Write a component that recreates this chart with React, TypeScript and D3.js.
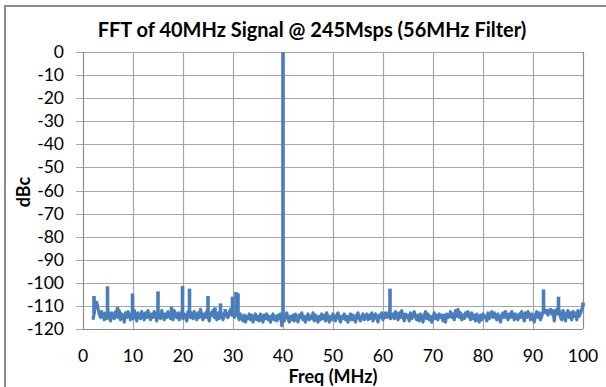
import React from 'react';
import * as d3 from 'd3';

// noise floor, one value every 0.25 MHz from 2.0 to 100.0 MHz
const noiseStart = 2;
const noiseStep = 0.25;
const noiseDb = [
  -116, -113, -109, -108.5, -111, -113.5, -115, -112.5, -114, -116, -113, -115.5, -112, -114.5, -116.5, -113, -114, -115.5, -112.5, -114,
  -115, -112, -116, -113.5, -114.5, -117, -113, -115, -112.5, -114, -116, -113.5, -115.5, -112, -114, -116.5, -113, -114.5, -115.5, -112.5,
  -114, -116, -113, -115, -112, -114.5, -116, -113.5, -115, -112.5, -114, -116.5, -113, -114.5, -115.5, -112, -114, -116, -113.5, -115,
  -112.5, -114, -115.5, -113, -116, -112, -114.5, -115, -113, -116, -114, -112.5, -115.5, -113.5, -114.5, -116.5, -112.5, -114, -115, -113,
  -115.5, -112.5, -114, -116, -113, -115, -111.5, -114, -116, -113.5, -115, -112.5, -114.5, -116.5, -113, -114, -112, -115, -113.5, -116,
  -113, -115.5, -112, -114, -116, -113.5, -112, -114.5, -115, -113, -111.5, -114, -112.5, -115, -113, -112, -114.5, -116, -113.5, -115,
  -116.5, -114, -117, -114.5, -115.5, -113.5, -116, -114, -117, -115, -113.5, -116, -114.5, -116.5, -113.5, -115, -117, -114, -115.5, -113.5,
  -116, -114.5, -117, -115, -113.5, -116, -114.5, -116.5, -114, -115.5, -113.5, -118.5, -115, -116.5, -114, -113, -115.5, -117, -114.5, -116,
  -114, -116.5, -113.5, -115.5, -117, -114, -115, -113, -116, -114.5, -117, -115, -113.5, -116, -114.5, -115.5, -113, -116.5, -114, -115,
  -117, -114.5, -116, -113.5, -115.5, -114, -116.5, -113, -115, -117, -114.5, -116, -113.5, -115, -116.5, -114, -113, -115.5, -117, -114.5,
  -115.5, -113.5, -116, -114.5, -117, -115, -113.5, -116, -114, -115.5, -117, -114, -113, -115.5, -116.5, -114.5, -113.5, -116, -115, -113.5,
  -116, -114, -115.5, -113, -116.5, -114.5, -113.5, -115.5, -117, -114, -115, -113, -116, -114.5, -113, -115, -114, -112.5, -115.5, -114,
  -113.5, -115.5, -112.5, -114.5, -116, -113, -115, -112, -114.5, -116.5, -113.5, -115, -114, -116.5, -113, -115.5, -114, -112.5, -115, -116,
  -114, -116.5, -113.5, -115, -117, -114, -112.5, -115.5, -113.5, -116, -114.5, -117, -115, -113, -115.5, -114, -116, -113.5, -115, -114,
  -116.5, -114, -117, -113.5, -115, -114.5, -112.5, -115, -113.5, -116, -112, -114.5, -111.5, -115, -113, -116, -114, -115.5, -113, -114.5,
  -112.5, -114.5, -116, -113, -115.5, -114, -116.5, -113.5, -115, -117, -114, -116, -113.5, -115, -114.5, -116.5, -113, -115.5, -114, -112.5,
  -115, -113, -114.5, -116, -113.5, -115.5, -117, -114, -113, -115, -112.5, -114.5, -116, -113.5, -115, -112.5, -114, -116, -113.5, -115,
  -116, -113.5, -115, -112.5, -114.5, -116.5, -113, -115, -112.5, -114, -116, -113.5, -115.5, -117, -114, -112.5, -115, -113, -116, -114.5,
  -112.5, -111.5, -113, -112, -114, -112, -111.5, -113.5, -112, -116.5, -112.5, -111.5, -113.5, -112, -115, -116, -112, -114, -116.5, -113,
  -112, -115, -113, -116, -112.5, -114.5, -113, -116, -112, -114.5, -113, -111.5, -110.5,
];

// spurs and carrier: frequency (MHz) and peak level (dBc)
const spurFreq = [2.2, 4.9, 6.9, 9.9, 15, 17.7, 19.9, 21.3, 25, 26.4, 27.5, 28.4, 29.9, 30.6, 31, 40, 61.4, 92.1, 95.1, 100];
const spurDb = [-105.7, -101.5, -110.5, -104.6, -103.7, -110.4, -101.4, -102.5, -105.7, -110.6, -108.9, -111.4, -106, -104, -104.5, 0, -102.5, -102.8, -106, -108.5];

const xTicks = [0, 10, 20, 30, 40, 50, 60, 70, 80, 90, 100];
const yTicks = [0, -10, -20, -30, -40, -50, -60, -70, -80, -90, -100, -110, -120];

const W = 606;
const H = 387;
const plot = { left: 83, right: 583, top: 52, bottom: 329 };
const lineColor = '#4a7ebb';
const gridColor = '#a6a6a6';
const font = 'Lato, "Open Sans", sans-serif';

export default function App() {
  const x = d3.scaleLinear().domain([0, 100]).range([plot.left, plot.right]);
  const y = d3.scaleLinear().domain([-120, 0]).range([plot.bottom, plot.top]);

  const noisePts: [number, number][] = noiseDb.map((v, i) => [noiseStart + i * noiseStep, v]);
  const path = d3.line<[number, number]>().x(d => x(d[0])).y(d => y(d[1]))(noisePts) || '';

  const floorAt = (f: number) => {
    const i = Math.max(0, Math.min(noiseDb.length - 1, Math.round((f - noiseStart) / noiseStep)));
    return noiseDb[i];
  };

  return (
    <div style={{ position: 'absolute', left: 0, top: 0 }}>
      <svg width={W} height={H} style={{ display: 'block', background: '#fff' }}>
        <rect x={5} y={6} width={W + 10} height={H + 10} fill="#fff" stroke="#8a8a8a" strokeWidth={2} />

        {/* grid */}
        {yTicks.map(t => (
          <line key={'gy' + t} x1={plot.left - 7} x2={plot.right} y1={Math.round(y(t)) + 0.5} y2={Math.round(y(t)) + 0.5}
            stroke={gridColor} strokeWidth={1.2} />
        ))}
        {xTicks.map(t => (
          <line key={'gx' + t} x1={Math.round(x(t)) + 0.5} x2={Math.round(x(t)) + 0.5} y1={plot.top} y2={plot.bottom}
            stroke={t === 0 || t === 100 ? '#8c8c8c' : gridColor} strokeWidth={1.2} />
        ))}
        <line x1={plot.left} x2={plot.right} y1={Math.round(y(-120)) + 0.5} y2={Math.round(y(-120)) + 0.5} stroke="#8c8c8c" strokeWidth={1.2} />

        {/* trace */}
        <path d={path} fill="none" stroke={lineColor} strokeWidth={3.2} strokeLinejoin="round" />
        {spurFreq.map((f, i) => (
          <line key={'s' + i} x1={x(f)} x2={x(f)} y1={y(floorAt(f))} y2={y(spurDb[i])}
            stroke={lineColor} strokeWidth={3.6} />
        ))}

        {/* tick labels */}
        {yTicks.map(t => (
          <text key={'ly' + t} x={64} y={y(t) + 6} textAnchor="end" fontFamily={font} fontSize={17.5} fill="#000">{t}</text>
        ))}
        {xTicks.map(t => (
          <text key={'lx' + t} x={x(t)} y={362} textAnchor="middle" fontFamily={font} fontSize={17.5} fill="#000">{t}</text>
        ))}

        <text x={312} y={37} textAnchor="middle" fontFamily={font} fontSize={20} fontWeight="bold" fill="#000">
          FFT of 40MHz Signal @ 245Msps (56MHz Filter)
        </text>
        <text x={333} y={383} textAnchor="middle" fontFamily={font} fontSize={18} fontWeight="bold" fill="#000">Freq (MHz)</text>
        <text transform={`translate(30,192) rotate(-90)`} textAnchor="middle" fontFamily={font} fontSize={18} fontWeight="bold" fill="#000">dBc</text>
      </svg>
    </div>
  );
}
